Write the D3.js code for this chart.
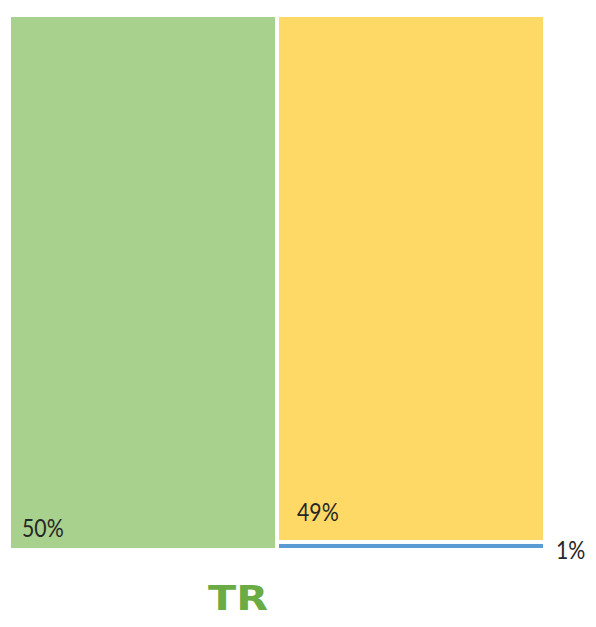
<!DOCTYPE html>
<html>
<head>
<meta charset="utf-8">
<script src="https://cdn.jsdelivr.net/npm/d3@7"></script>
<style>
  html, body { margin: 0; padding: 0; background: #fff; }
  svg { display: block; }
</style>
</head>
<body>
<svg id="chart" width="596" height="627"></svg>
<script>
// ---- data ----
const categories = ["Segment A", "Segment B", "Segment C"];
const values = [50, 49.25, 0.75];
const labels = ["50%", "49%", "1%"];
const colors = ["#A9D18E", "#FFD966", "#5B9BD5"];
const title = "TR";

// ---- layout ----
const svg = d3.select("#chart");
const box = { x: 11, y: 17, w: 532, h: 531 };

const root = d3.hierarchy({ children: categories.map((c, i) => ({ name: c, value: values[i], label: labels[i], color: colors[i] })) })
  .sum(d => d.value || 0);

d3.treemap()
  .tile(d3.treemapBinary)
  .size([box.w, box.h])
  .paddingInner(4)
  .round(false)(root);

const g = svg.append("g").attr("transform", `translate(${box.x},${box.y})`);

const leaves = root.leaves();

g.selectAll("rect.cell")
  .data(leaves)
  .join("rect")
  .attr("class", "cell")
  .attr("x", d => d.x0)
  .attr("y", d => d.y0)
  .attr("width", d => d.x1 - d.x0)
  .attr("height", d => d.y1 - d.y0)
  .attr("fill", d => d.data.color);

// label placement per cell
const labelFont = "Lato, sans-serif";
const place = [
  d => [d.x0 + 11, d.y1 - 11.5],
  d => [d.x0 + 18, d.y1 - 19],
  d => [d.x1 + 13, d.y1 + 11]
];

g.selectAll("text.lbl")
  .data(leaves)
  .join("text")
  .attr("class", "lbl")
  .each(function (d, i) {
    const [x, y] = place[i](d);
    d3.select(this).attr("x", x).attr("y", y);
  })
  .attr("font-family", labelFont)
  .attr("font-size", 25)
  .attr("fill", "#262626")
  .text(d => d.data.label)
  .each(function () {
    const w = this.getComputedTextLength();
    d3.select(this).attr("textLength", w * 0.85).attr("lengthAdjust", "spacingAndGlyphs");
  });

// title
svg.append("text")
  .attr("x", 238)
  .attr("y", 610)
  .attr("text-anchor", "middle")
  .attr("font-family", "'DejaVu Sans', sans-serif")
  .attr("font-weight", "bold")
  .attr("font-size", 34)
  .attr("textLength", 60)
  .attr("lengthAdjust", "spacingAndGlyphs")
  .attr("fill", "#6AAB44")
  .text(title);
</script>
</body>
</html>
